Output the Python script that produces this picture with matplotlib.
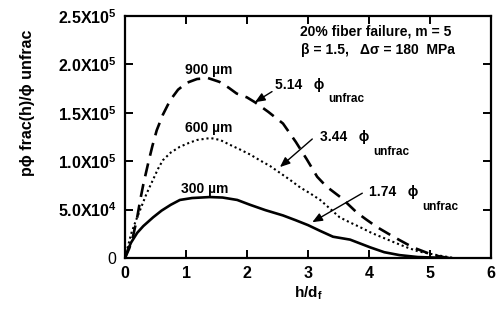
import matplotlib
matplotlib.use("Agg")
import matplotlib.pyplot as plt
from matplotlib.ticker import FixedLocator

plt.rcParams['font.family'] = ['Liberation Sans', 'DejaVu Sans']
plt.rcParams['mathtext.fontset'] = 'custom'
plt.rcParams['mathtext.rm'] = 'Liberation Sans:bold'
plt.rcParams['mathtext.bf'] = 'Liberation Sans:bold'
plt.rcParams['mathtext.it'] = 'Liberation Sans:bold'
plt.rcParams['mathtext.default'] = 'regular'

# --- data ---
x900 = [0, 0.07, 0.13, 0.2, 0.25, 0.3, 0.38, 0.45, 0.52, 0.62, 0.74, 0.87, 1.01, 1.18, 1.36,
        1.55, 1.7, 1.83, 2.0, 2.13, 2.35, 2.59, 2.8, 2.98, 3.15, 3.3, 3.55, 3.8, 3.95, 4.13,
        4.4, 4.72, 5.05, 5.3]
y900 = [0, 1.0e4, 2.2e4, 4.2e4, 6.0e4, 7.6e4, 9.8e4, 1.16e5, 1.32e5, 1.48e5, 1.63e5, 1.74e5,
        1.81e5, 1.85e5, 1.86e5, 1.82e5, 1.76e5, 1.70e5, 1.66e5, 1.61e5, 1.51e5, 1.39e5, 1.20e5,
        1.02e5, 8.4e4, 7.4e4, 6.2e4, 4.7e4, 4.0e4, 3.2e4, 2.2e4, 1.1e4, 3e3, 0]

x600 = [0, 0.1, 0.18, 0.25, 0.35, 0.46, 0.54, 0.62, 0.75, 0.9, 1.05, 1.18, 1.4, 1.56, 1.72,
        1.89, 2.05, 2.21, 2.38, 2.54, 2.7, 2.87, 3.03, 3.2, 3.36, 3.52, 3.68, 3.85, 4.04, 4.23,
        4.42, 4.62, 4.8, 4.95, 5.2, 5.4]
y600 = [0, 2.5e4, 3.9e4, 5.0e4, 6.6e4, 8.1e4, 9.2e4, 1.01e5, 1.09e5, 1.15e5, 1.19e5, 1.22e5,
        1.24e5, 1.22e5, 1.17e5, 1.12e5, 1.07e5, 1.01e5, 9.5e4, 8.8e4, 8.1e4, 7.3e4, 6.7e4,
        6.0e4, 5.1e4, 4.2e4, 3.7e4, 3.2e4, 2.6e4, 2.1e4, 1.6e4, 1.1e4, 7e3, 5e3, 2e3, 0]

x300 = [0, 0.05, 0.1, 0.2, 0.3, 0.46, 0.6, 0.75, 0.9, 1.1, 1.39, 1.6, 1.84, 2.05, 2.3, 2.59,
        2.8, 3.0, 3.2, 3.41, 3.69, 4.02, 4.25, 4.5, 4.8, 5.3]
y300 = [0, 9e3, 1.6e4, 2.6e4, 3.3e4, 4.2e4, 4.9e4, 5.5e4, 6.0e4, 6.2e4, 6.3e4, 6.25e4, 6.0e4,
        5.5e4, 4.95e4, 4.4e4, 3.9e4, 3.4e4, 2.8e4, 2.2e4, 1.9e4, 1.1e4, 6e3, 3e3, 1e3, 0]

xticks = [0, 1, 2, 3, 4, 5, 6]
yticks = [0, 5e4, 1e5, 1.5e5, 2e5, 2.5e5]
ytick_labels = ['0', '5.0X10$^{4}$', '1.0X10$^{5}$', '1.5X10$^{5}$', '2.0X10$^{5}$', '2.5X10$^{5}$']

PHI = '\u03d5'

fig = plt.figure(figsize=(4.99, 3.10), dpi=100)
ax = fig.add_axes([0.2505, 0.1677, 0.984 - 0.2505, 0.948 - 0.1677])

ax.plot(x900, y900, color='black', lw=1.9, linestyle=(0, (5.0, 3.0)))
ax.plot(x600, y600, color='black', lw=1.5, linestyle=(0, (1.0, 1.4)))
ax.plot(x300, y300, color='black', lw=1.9, linestyle='-')

ax.set_xlim(0, 6)
ax.set_ylim(0, 2.5e5)
ax.xaxis.set_major_locator(FixedLocator(xticks))
ax.yaxis.set_major_locator(FixedLocator(yticks))
ax.set_xticklabels([str(t) for t in xticks], fontsize=11.5, fontweight='bold')
ax.set_yticklabels(ytick_labels, fontsize=11.5, fontweight='bold')
ax.get_yticklabels()[0].set_fontweight('normal')
ax.tick_params(direction='in', length=6, width=1.4, top=True, right=True, pad=6)
for s in ax.spines.values():
    s.set_linewidth(1.6)

ax.set_xlabel('h/d$_{f}$', fontsize=11, fontweight='bold', labelpad=2)
ax.set_ylabel('p' + PHI + ' frac(h)/' + PHI + ' unfrac', fontsize=11.5, fontweight='bold')
ax.yaxis.set_label_coords(-0.245, 0.64)

ax.text(4.11, 2.34e5, '20% fiber failure, m = 5', fontsize=10, fontweight='bold', ha='center', va='center')
ax.text(4.15, 2.15e5, '\u03b2 = 1.5,   \u0394\u03c3 = 180  MPa', fontsize=10, fontweight='bold', ha='center', va='center')

ax.text(1.38, 1.94e5, '900 \u00b5m', fontsize=10, fontweight='bold', ha='center', va='center')
ax.text(1.38, 1.34e5, '600 \u00b5m', fontsize=10, fontweight='bold', ha='center', va='center')
ax.text(1.3, 7.1e4, '300 \u00b5m', fontsize=10, fontweight='bold', ha='center', va='center')

arrow = dict(arrowstyle='-|>,head_length=0.6,head_width=0.25', color='black', lw=1.0,
             shrinkA=0, shrinkB=0)


def label(x, y, num):
    t = ax.text(x, y, num + '   ' + PHI, fontsize=10, fontweight='bold', ha='left', va='center')
    ax.annotate('unfrac', xy=(1, 0), xycoords=t, xytext=(3, -5.5), textcoords='offset points',
                fontsize=8.5, fontweight='bold', ha='left', va='center')


ax.annotate('', xy=(2.13, 1.61e5), xytext=(2.41, 1.72e5), arrowprops=arrow)
label(2.46, 1.79e5, '5.14')

ax.annotate('', xy=(2.54, 9.4e4), xytext=(3.07, 1.23e5), arrowprops=arrow)
label(3.2, 1.25e5, '3.44')

ax.annotate('', xy=(3.07, 3.7e4), xytext=(3.89, 6.7e4), arrowprops=arrow)
label(4.0, 6.8e4, '1.74')

fig.savefig('out.png', dpi=100)
